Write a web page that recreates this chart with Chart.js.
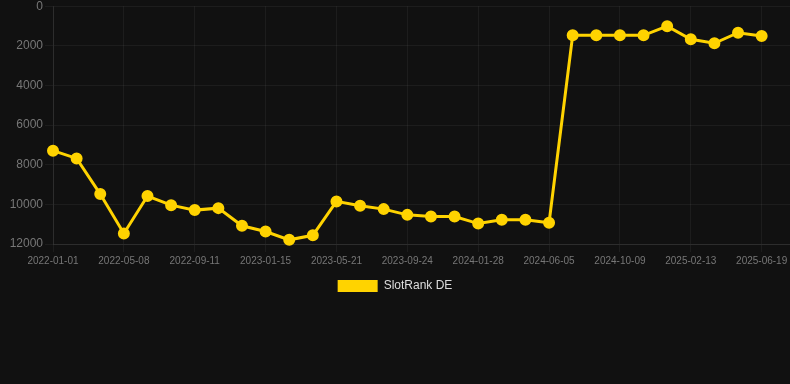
<!DOCTYPE html>
<html>
<head>
<meta charset="utf-8">
<script src="https://cdn.jsdelivr.net/npm/chart.js@4"></script>
<style>
	html, body { margin: 0; padding: 0; background: #111111; overflow: hidden; }
	#wrap { width: 790px; height: 305px; margin-top: -3px; position: relative; }
</style>
</head>
<body>
<div id="wrap"><canvas id="graph"></canvas></div>
<script>
"use strict";

const dates = [
	"2022-01-01", "2022-02-12", "2022-03-27", "2022-05-08", "2022-06-19", "2022-07-31",
	"2022-09-11", "2022-10-23", "2022-12-04", "2023-01-15", "2023-02-26", "2023-04-09",
	"2023-05-21", "2023-07-02", "2023-08-13", "2023-09-24", "2023-11-05", "2023-12-17",
	"2024-01-28", "2024-03-11", "2024-04-23", "2024-06-05", "2024-07-17", "2024-08-28",
	"2024-10-09", "2024-11-20", "2025-01-01", "2025-02-13", "2025-03-27", "2025-05-08",
	"2025-06-19",
];
const slotRankDE = [
	7290, 7680, 9480, 11470, 9580, 10040,
	10290, 10190, 11080, 11370, 11790, 11560,
	9850, 10070, 10240, 10530, 10610, 10610,
	10970, 10780, 10780, 10930, 1470, 1470,
	1470, 1470, 1010, 1670, 1870, 1340,
	1500,
];
const yTicks = { min: 0, max: 12000, step: 2000 };
// x runs on the date index; the axis goes a little past the last date
const xTicks = { min: 0, max: 31.2, step: 3 };

const gold = "#FFD300";

new Chart(document.querySelector("#graph").getContext("2d"), {
	type: "line",
	data: {
		datasets: [
			{
				label: "SlotRank DE",
				data: slotRankDE.map((v, i) => ({ x: i, y: v })),
				borderColor: gold,
				backgroundColor: gold,
				borderWidth: 3,
				pointRadius: 4.5,
				pointHoverRadius: 5,
				tension: 0,
				clip: false,
			},
		],
	},
	options: {
		responsive: true,
		maintainAspectRatio: false,
		animation: false,
		layout: { padding: 0, autoPadding: false },
		scales: {
			x: {
				type: "linear",
				min: xTicks.min,
				max: xTicks.max,
				afterBuildTicks(scale) {
					const ticks = [];
					for (let i = 0; i < dates.length; i += xTicks.step) ticks.push({ value: i });
					scale.ticks = ticks;
				},
				afterFit(scale) {
					scale.paddingRight = 0;
				},
				grid: { color: "rgba(255,255,255,0.05)" },
				border: { color: "rgba(255,255,255,0.08)" },
				ticks: {
					color: "#777",
					font: { family: "Liberation Sans, Arial", size: 10 },
					maxRotation: 0,
					autoSkip: false,
					callback: (v) => dates[v] || "",
				},
			},
			y: {
				reverse: true,
				min: yTicks.min,
				max: yTicks.max,
				afterFit(scale) {
					scale.width = 53;
				},
				grid: { color: "rgba(255,255,255,0.05)" },
				border: { color: "rgba(255,255,255,0.08)" },
				ticks: {
					stepSize: yTicks.step,
					padding: 2,
					color: "#777",
					font: { family: "Liberation Sans, Arial", size: 12 },
					callback: (v) => String(v),
				},
			},
		},
		plugins: {
			legend: {
				position: "bottom",
				labels: {
					color: "#ddd",
					font: { family: "Liberation Sans, Arial", size: 12 },
					boxWidth: 40,
					boxHeight: 12,
					generateLabels(chart) {
						return Chart.defaults.plugins.legend.labels
							.generateLabels(chart)
							.map((item) => ({ ...item, lineWidth: 0 }));
					},
				},
			},
			tooltip: { enabled: false },
		},
	},
});
</script>
</body>
</html>
